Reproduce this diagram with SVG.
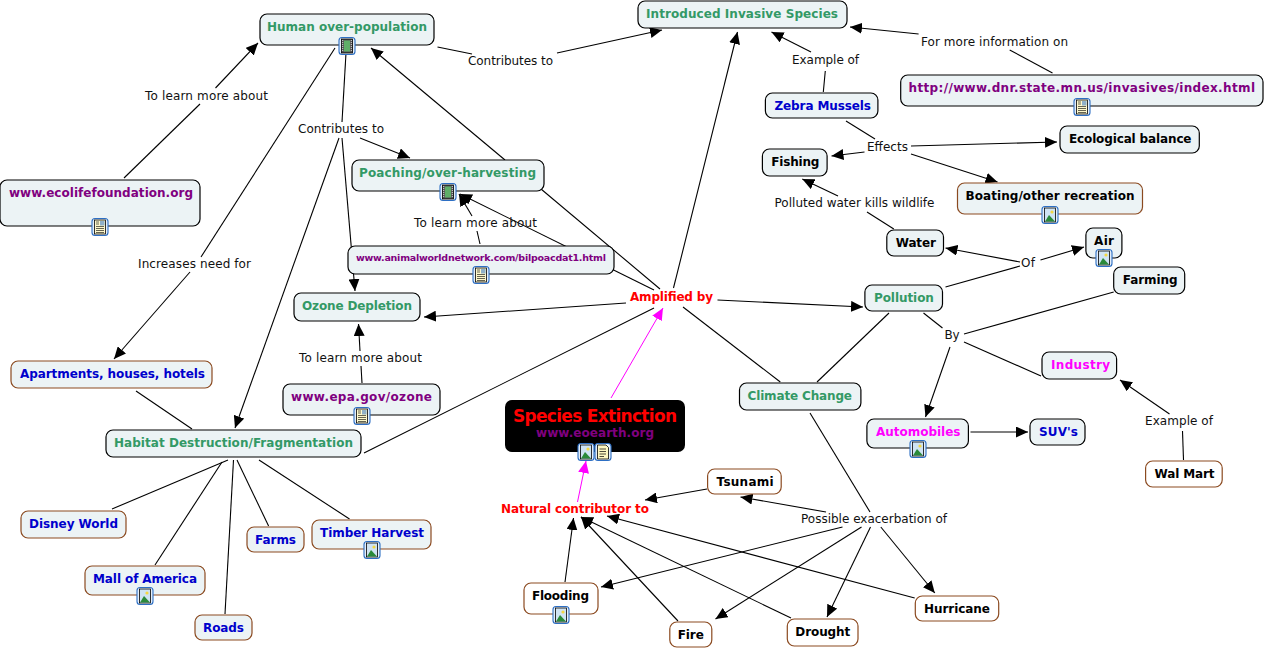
<svg xmlns="http://www.w3.org/2000/svg" width="1267" height="649" viewBox="0 0 1267 649">
<style>
text{font-family:"DejaVu Sans","Liberation Sans",sans-serif;font-size:12px}
.n{font-weight:bold;font-size:12px}
.k{fill:#000}.g{fill:#339966}.b{fill:#0000cc}.p{fill:#800080}.m{fill:#ff00ff}.r{fill:#ff0000}
.l{fill:#111}
rect.a{fill:#ecf3f5;stroke:#000;stroke-width:1.2}
rect.o{fill:#ecf3f5;stroke:#8b4a20;stroke-width:1.2}
rect.w{fill:#fff;stroke:#8b4a20;stroke-width:1.2}
#connectors line{stroke:#000;stroke-width:1.1;fill:none}
#connectors line.h{marker-end:url(#ah)}
#connectors line.mg{stroke:#ff00ff;stroke-width:1;marker-end:url(#am)}
.ib{fill:#e4eef9;stroke:#2d6fc4;stroke-width:1.1}
</style>
<defs>
<marker id="ah" markerUnits="userSpaceOnUse" markerWidth="13" markerHeight="11" refX="12" refY="5.500" orient="auto"><path d="M0 0L12 5.500L0 11Z" fill="#000"/></marker>
<marker id="am" markerUnits="userSpaceOnUse" markerWidth="13" markerHeight="11" refX="12" refY="5.500" orient="auto"><path d="M0 0L12 5.500L0 11Z" fill="#ff00ff"/></marker>
<g id="i-img"><rect class="ib" x="-8" y="-8.5" width="16" height="17" rx="3"/><rect x="-5.5" y="-7" width="11" height="14" fill="#cfe3f3" stroke="#000" stroke-width=".8"/><circle cx="2" cy="-3" r="1.6" fill="#f4d742"/><path d="M-5 6.5L-1 0L5 6.5Z" fill="#2a8a3a"/></g>
<g id="i-doc"><rect class="ib" x="-8" y="-8.5" width="16" height="17" rx="3"/><rect x="-5.5" y="-7" width="11" height="14" fill="#fdf8cc" stroke="#000" stroke-width=".8"/><rect x="0" y="-6" width="4.500" height="4.500" fill="#8fb0c8"/><path d="M-4-5H-1M-4-3H-1M-4-.5H4M-4 1.500H4M-4 3.500H4M-4 5.500H4" stroke="#000" stroke-width=".6"/></g>
<g id="i-film"><rect class="ib" x="-8" y="-8.500" width="16" height="17" rx="3"/><rect x="-5.500" y="-7" width="11" height="14" fill="#555" stroke="#000" stroke-width=".8"/><rect x="-3" y="-5.500" width="6" height="11" fill="#5fae68"/><path d="M-4.300-6V6M4.300-6V6" stroke="#ddd" stroke-width="1" stroke-dasharray="1 1"/></g>
<g id="i-note"><rect class="ib" x="-8" y="-8.500" width="16" height="17" rx="3"/><path d="M-5.500-7H3L5.500-4.500V7H-5.500Z" fill="#fdf6c0" stroke="#000" stroke-width=".8"/><path d="M-3.500-3H3M-3.500-.5H3M-3.500 2H3M-3.500 4.500H1" stroke="#000" stroke-width=".7"/></g>
</defs>
<rect width="1267" height="649" fill="#fff"/>
<g id="connectors">
<line x1="124" y1="178" x2="200" y2="104"/><line class="h" x1="215.500" y1="88" x2="258" y2="43"/>
<line x1="437.500" y1="47" x2="472" y2="54"/><line class="h" x1="557" y1="53" x2="662" y2="30"/>
<line x1="346" y1="53" x2="342" y2="122"/><line class="h" x1="339" y1="138" x2="235" y2="428"/>
<line class="h" x1="342" y1="138" x2="355" y2="291"/><line class="h" x1="360" y1="138" x2="410" y2="158"/>
<line x1="335" y1="48" x2="201" y2="257"/><line class="h" x1="190" y1="272" x2="114" y2="359"/>
<line class="h" x1="505" y1="160" x2="371" y2="48"/>
<line x1="480" y1="244" x2="477" y2="231"/><line class="h" x1="472" y1="216" x2="459" y2="194"/>
<line class="h" x1="654" y1="290" x2="460" y2="194"/>
<line x1="541" y1="189" x2="660" y2="289"/>
<line class="h" x1="673.500" y1="288" x2="737.500" y2="32"/>
<line class="h" x1="717.500" y1="300" x2="863" y2="307"/>
<line class="h" x1="626" y1="303" x2="424" y2="317"/>
<line x1="364" y1="453" x2="654" y2="308"/>
<line x1="683" y1="307" x2="780.300" y2="382"/>
<line x1="817" y1="382" x2="889" y2="313"/>
<line x1="923.500" y1="313" x2="942.500" y2="328"/>
<line x1="1113.700" y1="292" x2="964" y2="334"/>
<line x1="964" y1="342" x2="1041" y2="376"/>
<line class="h" x1="950" y1="347" x2="925.500" y2="417"/>
<line class="h" x1="970.500" y1="432" x2="1028" y2="432"/>
<line x1="1183.500" y1="460" x2="1182.500" y2="431"/><line class="h" x1="1169.500" y1="414" x2="1120" y2="380"/>
<line x1="810" y1="413" x2="870" y2="512"/>
<line class="h" x1="826" y1="512" x2="740.500" y2="497"/>
<line class="h" x1="707" y1="489" x2="645" y2="500"/>
<line class="h" x1="842.500" y1="527" x2="601" y2="587"/>
<line class="h" x1="861.500" y1="527" x2="715.500" y2="619"/>
<line class="h" x1="870.500" y1="527" x2="827" y2="617"/>
<line class="h" x1="880.800" y1="527" x2="934.800" y2="593"/>
<line class="h" x1="914.700" y1="598" x2="607" y2="516"/>
<line class="h" x1="791" y1="618" x2="581" y2="517"/>
<line class="h" x1="678" y1="621" x2="581" y2="517"/>
<line class="h" x1="565" y1="582" x2="573.500" y2="518"/>
<line class="mg" x1="577.500" y1="502" x2="586" y2="461"/>
<line class="mg" x1="611" y1="398" x2="663" y2="308"/>
<line x1="136" y1="391" x2="192" y2="429"/>
<line x1="228" y1="460" x2="112" y2="509"/>
<line x1="222" y1="462" x2="155" y2="565"/>
<line x1="233.500" y1="460" x2="225" y2="614"/>
<line x1="237" y1="460" x2="268.600" y2="526"/>
<line x1="259" y1="460" x2="349.500" y2="519"/>
<line x1="362" y1="383" x2="361" y2="366"/><line class="h" x1="360" y1="351" x2="358.500" y2="324"/>
<line x1="823.300" y1="92" x2="825.300" y2="71"/><line class="h" x1="811" y1="52" x2="771.500" y2="32"/>
<line x1="1052.500" y1="73" x2="1009.700" y2="50"/><line class="h" x1="918.600" y1="34" x2="850" y2="27"/>
<line x1="846" y1="121" x2="875" y2="139"/>
<line class="h" x1="864.500" y1="152" x2="831.500" y2="156"/>
<line class="h" x1="911" y1="146" x2="1057" y2="142"/>
<line class="h" x1="911" y1="154" x2="997.500" y2="182"/>
<line x1="893.800" y1="229" x2="867" y2="212"/><line class="h" x1="838" y1="196" x2="802.300" y2="179"/>
<line x1="945.500" y1="287" x2="1020" y2="266"/>
<line class="h" x1="1020" y1="262" x2="945.500" y2="248"/>
<line class="h" x1="1040.500" y1="260" x2="1084" y2="247"/>
</g>
<g id="labels">
<text class="l" x="145" y="100" textLength="123">To learn more about</text>
<text class="l" x="468" y="65" textLength="85">Contributes to</text>
<text class="l" x="298" y="133" textLength="86">Contributes to</text>
<text class="l" x="138" y="268" textLength="113">Increases need for</text>
<text class="l" x="414" y="227" textLength="123">To learn more about</text>
<text class="l" x="299" y="362" textLength="123">To learn more about</text>
<text class="l" x="792" y="64" textLength="67">Example of</text>
<text class="l" x="921" y="46" textLength="147">For more information on</text>
<text class="l" x="867" y="151" textLength="41">Effects</text>
<text class="l" x="774.500" y="207" textLength="160">Polluted water kills wildlife</text>
<text class="l" x="1021" y="267" textLength="14">Of</text>
<text class="l" x="944.500" y="339" textLength="15">By</text>
<text class="l" x="1145" y="425" textLength="68">Example of</text>
<text class="l" x="801" y="523" textLength="146">Possible exacerbation of</text>
<text class="n r" x="630" y="301" textLength="83">Amplified by</text>
<text class="n r" x="501" y="513" textLength="148">Natural contributor to</text>
</g>
<g id="human"><rect class="a" x="260" y="14" width="174" height="31" rx="7"/><text class="n g" x="267" y="31" textLength="160">Human over-population</text><use href="#i-film" x="347" y="46"/></g>
<g id="ecolife"><rect class="a" x="0" y="180" width="200" height="46" rx="7"/><text class="n p" x="9" y="197" textLength="184">www.ecolifefoundation.org</text><use href="#i-doc" x="100" y="227"/></g>
<g id="poaching"><rect class="a" x="352" y="160" width="192" height="31" rx="7"/><text class="n g" x="359" y="177" textLength="177">Poaching/over-harvesting</text><use href="#i-film" x="448" y="192"/></g>
<g id="animal"><rect class="a" x="348" y="246" width="266" height="28" rx="7"/><text class="n p" style="font-size:9.500px" x="356" y="261" textLength="250">www.animalworldnetwork.com/bilpoacdat1.html</text><use href="#i-doc" x="481" y="275"/></g>
<g id="ozone"><rect class="a" x="294" y="293" width="126" height="28" rx="7"/><text class="n g" x="302" y="310" textLength="110">Ozone Depletion</text></g>
<g id="apartments"><rect class="o" x="11" y="361" width="201" height="27" rx="7"/><text class="n b" x="20" y="378" textLength="185">Apartments, houses, hotels</text></g>
<g id="epa"><rect class="a" x="283" y="384" width="157" height="31" rx="7"/><text class="n p" x="291" y="401" textLength="141">www.epa.gov/ozone</text><use href="#i-doc" x="362" y="416"/></g>
<g id="habitat"><rect class="a" x="106" y="430" width="255" height="27" rx="7"/><text class="n g" x="114" y="447" textLength="239">Habitat Destruction/Fragmentation</text></g>
<g id="disney"><rect class="o" x="21" y="511" width="105" height="27" rx="7"/><text class="n b" x="29" y="528" textLength="89">Disney World</text></g>
<g id="mall"><rect class="o" x="85" y="566" width="120" height="29" rx="7"/><text class="n b" x="93" y="583" textLength="104">Mall of America</text><use href="#i-img" x="145" y="596"/></g>
<g id="roads"><rect class="o" x="195" y="615" width="57" height="25" rx="7"/><text class="n b" x="203" y="632" textLength="41">Roads</text></g>
<g id="farms"><rect class="o" x="247" y="527" width="57" height="25" rx="7"/><text class="n b" x="255" y="544" textLength="41">Farms</text></g>
<g id="timber"><rect class="o" x="312" y="520" width="119" height="29" rx="7"/><text class="n b" x="320" y="537" textLength="104">Timber Harvest</text><use href="#i-img" x="372" y="550"/></g>
<g id="species"><rect x="505" y="400" width="180" height="52" rx="7" fill="#000"/><text class="r" style="font-weight:bold;font-size:17px" x="513" y="422" textLength="164">Species Extinction</text><text class="n p" x="536" y="437" textLength="118">www.eoearth.org</text><use href="#i-img" x="586" y="452"/><use href="#i-note" x="603" y="452"/></g>
<g id="flooding"><rect class="w" x="524" y="583" width="74" height="31" rx="7"/><text class="n k" x="532" y="600" textLength="57">Flooding</text><use href="#i-img" x="561" y="615"/></g>
<g id="fire"><rect class="w" x="669.800" y="622" width="42" height="25" rx="7"/><text class="n k" x="677.800" y="639" textLength="26">Fire</text></g>
<g id="drought"><rect class="w" x="787.300" y="619" width="70.700" height="27" rx="7"/><text class="n k" x="795.300" y="636" textLength="55">Drought</text></g>
<g id="hurricane"><rect class="w" x="915.300" y="596" width="83.400" height="25" rx="7"/><text class="n k" x="924" y="613" textLength="66">Hurricane</text></g>
<g id="tsunami"><rect class="w" x="707.600" y="469" width="73.600" height="25" rx="7"/><text class="n k" x="716.600" y="486" textLength="57">Tsunami</text></g>
<g id="climate"><rect class="a" x="739.500" y="383" width="121.400" height="27" rx="7"/><text class="n g" x="747.500" y="400" textLength="104.500">Climate Change</text></g>
<g id="pollution"><rect class="a" x="864.900" y="285" width="77.600" height="26" rx="7"/><text class="n g" x="873.900" y="302" textLength="60">Pollution</text></g>
<g id="automobiles"><rect class="a" x="866.900" y="419" width="101.500" height="29" rx="7"/><text class="n m" x="875.900" y="436" textLength="84.600">Automobiles</text><use href="#i-img" x="918" y="449"/></g>
<g id="suv"><rect class="a" x="1030" y="419" width="55" height="26" rx="7"/><text class="n b" x="1039" y="436" textLength="39">SUV's</text></g>
<g id="industry"><rect class="a" x="1042" y="352" width="74.600" height="27" rx="7"/><text class="n m" x="1051" y="369" textLength="59">Industry</text></g>
<g id="walmart"><rect class="w" x="1145.600" y="461" width="76.600" height="26" rx="7"/><text class="n k" x="1154.600" y="478" textLength="60">Wal Mart</text></g>
<g id="farming"><rect class="a" x="1113.700" y="267" width="71" height="27" rx="7"/><text class="n k" x="1122.700" y="284" textLength="55">Farming</text></g>
<g id="air"><rect class="a" x="1085.900" y="228" width="36" height="30" rx="7"/><text class="n k" x="1094" y="245" textLength="20">Air</text><use href="#i-img" x="1104" y="258"/></g>
<g id="water"><rect class="a" x="886.800" y="230" width="56.700" height="26" rx="7"/><text class="n k" x="895.800" y="247" textLength="40">Water</text></g>
<g id="boating"><rect class="o" x="957.500" y="183" width="185" height="31" rx="7"/><text class="n k" x="965.500" y="200" textLength="169">Boating/other recreation</text><use href="#i-img" x="1050" y="215"/></g>
<g id="fishing"><rect class="a" x="762.400" y="149" width="64.700" height="27" rx="7"/><text class="n k" x="771.300" y="166" textLength="48">Fishing</text></g>
<g id="ecological"><rect class="a" x="1060" y="126" width="139.300" height="27" rx="7"/><text class="n k" x="1069" y="143" textLength="122.500">Ecological balance</text></g>
<g id="zebra"><rect class="a" x="765.400" y="93" width="112.500" height="25" rx="7"/><text class="n b" x="774.500" y="110" textLength="96.500">Zebra Mussels</text></g>
<g id="dnr"><rect class="a" x="900.700" y="75" width="362.300" height="31" rx="7"/><text class="n p" x="908.500" y="92" textLength="346.500">http://www.dnr.state.mn.us/invasives/index.html</text><use href="#i-doc" x="1082" y="107"/></g>
<g id="invasive"><rect class="a" x="638" y="1" width="209" height="27" rx="7"/><text class="n g" x="646" y="18" textLength="192">Introduced Invasive Species</text></g>
</svg>
